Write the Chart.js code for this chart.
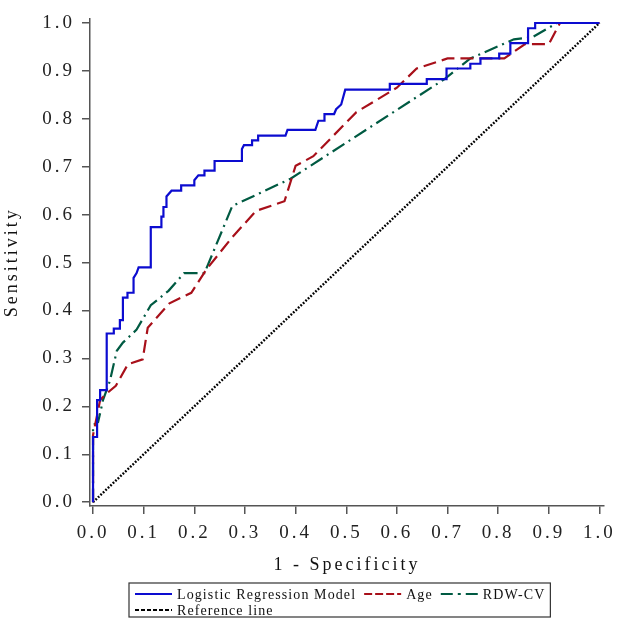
<!DOCTYPE html>
<html>
<head>
<meta charset="utf-8">
<script src="https://cdn.jsdelivr.net/npm/chart.js@4/dist/chart.umd.min.js"></script>
<style>
  html, body { margin: 0; padding: 0; background: #fff; }
  #wrap { width: 624px; height: 624px; }
</style>
</head>
<body>
<div id="wrap"><canvas id="roc"></canvas></div>
<script>
// Axis ticks
const tickVals = [0, 0.1, 0.2, 0.3, 0.4, 0.5, 0.6, 0.7, 0.8, 0.9, 1.0];

// Logistic Regression Model (step curve)
const lrFpr = [0, 0, 0.008, 0.008, 0.014, 0.014, 0.027, 0.027, 0.041, 0.041, 0.053, 0.053,
  0.059, 0.059, 0.068, 0.068, 0.080, 0.080, 0.086, 0.090, 0.114, 0.114, 0.135, 0.135,
  0.139, 0.139, 0.145, 0.145, 0.155, 0.174, 0.174, 0.200, 0.200, 0.208, 0.220, 0.220,
  0.240, 0.240, 0.294, 0.294, 0.298, 0.314, 0.314, 0.326, 0.326, 0.380, 0.384, 0.439,
  0.445, 0.457, 0.457, 0.476, 0.480, 0.490, 0.498, 0.586, 0.586, 0.659, 0.659, 0.698,
  0.698, 0.745, 0.745, 0.765, 0.765, 0.802, 0.802, 0.824, 0.824, 0.859, 0.859, 0.873,
  0.873, 1.0];
const lrTpr = [0, 0.136, 0.136, 0.213, 0.213, 0.234, 0.234, 0.352, 0.352, 0.362, 0.362, 0.380,
  0.380, 0.427, 0.427, 0.437, 0.437, 0.468, 0.478, 0.490, 0.490, 0.574, 0.574, 0.596,
  0.596, 0.616, 0.616, 0.638, 0.650, 0.650, 0.661, 0.661, 0.672, 0.682, 0.682, 0.692,
  0.692, 0.712, 0.712, 0.737, 0.745, 0.745, 0.755, 0.755, 0.765, 0.765, 0.777, 0.777,
  0.796, 0.796, 0.810, 0.810, 0.820, 0.830, 0.861, 0.861, 0.873, 0.873, 0.883, 0.883,
  0.905, 0.905, 0.915, 0.915, 0.926, 0.926, 0.936, 0.936, 0.958, 0.958, 0.989, 0.989,
  1.0, 1.0];

// Age
const ageFpr = [0, 0, 0.014, 0.024, 0.045, 0.069, 0.098, 0.108, 0.151, 0.194, 0.224, 0.275,
  0.322, 0.378, 0.400, 0.435, 0.520, 0.600, 0.639, 0.700, 0.812, 0.853, 0.900, 0.922, 1.0];
const ageTpr = [0, 0.140, 0.213, 0.224, 0.243, 0.288, 0.298, 0.364, 0.415, 0.437, 0.486, 0.553,
  0.608, 0.628, 0.702, 0.722, 0.814, 0.865, 0.905, 0.926, 0.926, 0.956, 0.956, 1.0, 1.0];

// RDW-CV
const rdwFpr = [0, 0, 0.010, 0.020, 0.033, 0.047, 0.059, 0.086, 0.114, 0.149, 0.180, 0.220,
  0.275, 0.390, 0.694, 0.745, 0.831, 0.867, 0.916, 1.0];
const rdwTpr = [0, 0.161, 0.167, 0.214, 0.252, 0.316, 0.333, 0.360, 0.411, 0.441, 0.478, 0.478,
  0.618, 0.675, 0.883, 0.926, 0.966, 0.970, 1.0, 1.0];

// Reference line
const refFpr = [0, 1];
const refTpr = [0, 1];

const seriesNames = ['Logistic Regression Model', 'Age', 'RDW-CV', 'Reference line'];

function toPoints(xs, ys) {
    return xs.map((x, i) => ({ x: x, y: ys[i] }));
}

const FONT = "'Liberation Serif', 'DejaVu Serif', serif";

// Wider glyph spacing, closer to the original SimSun look
const spacingPlugin = {
    id: 'spacing',
    beforeLayout(chart) { chart.ctx.letterSpacing = '3px'; },
    beforeDraw(chart) { chart.ctx.letterSpacing = '3px'; }
};

// Boxed legend under the x axis title
const boxLegend = {
    id: 'boxLegend',
    afterDraw(chart) {
        const ctx = chart.ctx;
        const rows = [[0, 1, 2], [3]];
        const left = 129, top = 583, rowH = 16;
        ctx.save();
        ctx.letterSpacing = '1.1px';
        ctx.font = '14px ' + FONT;
        ctx.textBaseline = 'middle';
        let maxRight = left;
        rows.forEach((row, r) => {
            let x = left + 6;
            const y = top + 11 + r * rowH;
            row.forEach(idx => {
                const ds = chart.data.datasets[idx];
                ctx.strokeStyle = ds.borderColor;
                ctx.lineWidth = 2;
                ctx.setLineDash(ds.legendDash || []);
                ctx.beginPath();
                ctx.moveTo(x, y);
                ctx.lineTo(x + 37, y);
                ctx.stroke();
                ctx.setLineDash([]);
                ctx.fillStyle = '#111';
                ctx.fillText(ds.label, x + 42, y + 1);
                x += 42 + ctx.measureText(ds.label).width + 8;
            });
            maxRight = Math.max(maxRight, x - 3);
        });
        ctx.strokeStyle = '#333';
        ctx.lineWidth = 1.2;
        ctx.strokeRect(left, top, maxRight - left, 34);
        ctx.restore();
    }
};

const axisCommon = {
    type: 'linear',
    border: { display: true, color: '#555', width: 1.5 },
    grid: { display: true, drawOnChartArea: false, drawTicks: true, tickLength: 8, color: '#555', lineWidth: 1.5 },
    afterBuildTicks: function(scale) {
        scale.ticks = tickVals.map(v => ({ value: v }));
    }
};

new Chart(document.getElementById('roc'), {
    type: 'scatter',
    data: {
        datasets: [
            {
                label: seriesNames[0],
                data: toPoints(lrFpr, lrTpr),
                borderColor: '#0c0cd0',
                borderWidth: 2.2,
                showLine: true,
                pointRadius: 0,
                legendDash: []
            },
            {
                label: seriesNames[1],
                data: toPoints(ageFpr, ageTpr),
                borderColor: '#a8101a',
                borderWidth: 2.2,
                borderDash: [13, 6],
                showLine: true,
                pointRadius: 0,
                legendDash: [8, 3]
            },
            {
                label: seriesNames[2],
                data: toPoints(rdwFpr, rdwTpr),
                borderColor: '#005a42',
                borderWidth: 2.2,
                borderDash: [14, 5, 2, 5],
                showLine: true,
                pointRadius: 0,
                legendDash: [12, 5, 3, 5]
            },
            {
                label: seriesNames[3],
                data: toPoints(refFpr, refTpr),
                borderColor: '#000',
                borderWidth: 2.4,
                borderDash: [1.8, 1.6],
                showLine: true,
                pointRadius: 0,
                legendDash: [4, 2]
            }
        ]
    },
    options: {
        responsive: true,
        maintainAspectRatio: false,
        animation: false,
        layout: { padding: { left: 0, right: 17, top: 6, bottom: 46 } },
        plugins: {
            legend: { display: false },
            tooltip: { enabled: false }
        },
        scales: {
            x: Object.assign({}, axisCommon, {
                min: -0.006,
                max: 1.009,
                ticks: {
                    autoSkip: false,
                    maxRotation: 0,
                    padding: 8,
                    color: '#222',
                    font: { family: FONT, size: 19 },
                    callback: v => v.toFixed(1)
                },
                title: {
                    display: true,
                    text: '1 - Specificity',
                    color: '#111',
                    font: { family: FONT, size: 18 },
                    padding: { top: 0, bottom: 2 }
                },
                afterFit: function(scale) { scale.height = 72; }
            }),
            y: Object.assign({}, axisCommon, {
                min: -0.008,
                max: 1.0096,
                ticks: {
                    autoSkip: false,
                    padding: 7,
                    color: '#222',
                    font: { family: FONT, size: 19 },
                    callback: v => v.toFixed(1)
                },
                title: {
                    display: true,
                    text: 'Sensitivity',
                    color: '#111',
                    font: { family: FONT, size: 18 },
                    padding: { top: 1, bottom: 0 }
                },
                afterFit: function(scale) { scale.width = 90; }
            })
        }
    },
    plugins: [spacingPlugin, boxLegend]
});
</script>
</body>
</html>
